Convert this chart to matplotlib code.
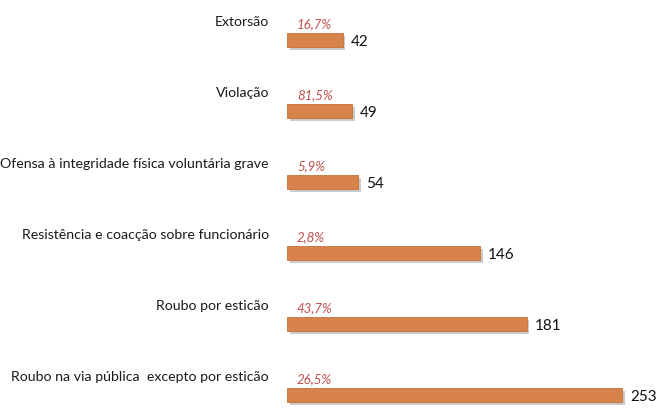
import matplotlib
matplotlib.use('Agg')
import matplotlib.pyplot as plt
import matplotlib.patheffects as pe

# categorias, valores e percentagens
categorias = ["Extorsão", "Violação", "Ofensa à integridade física voluntária grave",
              "Resistência e coacção sobre funcionário", "Roubo por esticão",
              "Roubo na via pública  excepto por esticão"]
valores = [42, 49, 54, 146, 181, 253]
percentagens = ["16,7%", "81,5%", "5,9%", "2,8%", "43,7%", "26,5%"]

plt.rcParams['font.family'] = ['Lato', 'DejaVu Sans']

fig = plt.figure(figsize=(6.56, 4.10), dpi=100)
ax = fig.add_axes([287 / 656, 0, 369 / 656, 1])

pos = list(range(len(valores)))
bars = ax.barh(pos, valores, height=0.2, color='#D7834B', edgecolor='#C47238', linewidth=0.6)
for b in bars:
    b.set_path_effects([pe.SimplePatchShadow(offset=(2, -2), shadow_rgbFace='#999999', alpha=0.5),
                        pe.Normal()])

ax.set_ylim(5 + 14 / 71, -41 / 71)
ax.set_xlim(0, 369 / 1.324)
ax.axis('off')

for i, (v, p, c) in enumerate(zip(valores, percentagens, categorias)):
    ax.text(v + 6, i + 0.02, str(v), va='center', ha='left', fontsize=11, color='#111111')
    ax.annotate(p, (0, i), xytext=(10, 17), textcoords='offset pixels', va='center', ha='left',
                fontsize=9.5, color='#C0504D', style='italic')
    ax.annotate(c, (0, i), xytext=(-18, 19), textcoords='offset pixels', va='center', ha='right',
                fontsize=10.2, color='#1a1a1a', annotation_clip=False)

fig.savefig('out.png', dpi=100)
